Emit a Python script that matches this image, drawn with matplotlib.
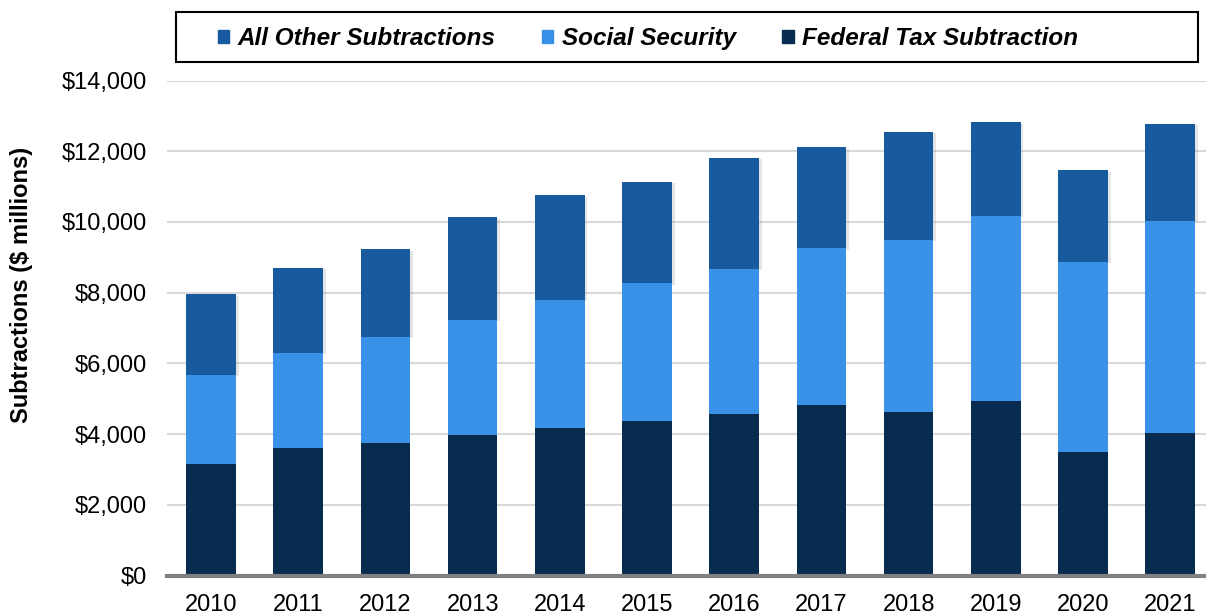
import matplotlib
matplotlib.use("Agg")
import matplotlib.pyplot as plt
from matplotlib.patches import Rectangle, Patch
import matplotlib.patheffects as pe
import numpy as np

years = ["2010", "2011", "2012", "2013", "2014", "2015", "2016", "2017", "2018", "2019", "2020", "2021"]
federal_tax = [3150, 3600, 3760, 3960, 4170, 4360, 4570, 4830, 4630, 4940, 3500, 4020]
social_security = [2530, 2700, 2990, 3270, 3630, 3900, 4110, 4420, 4870, 5240, 5380, 6010]
all_other = [2270, 2410, 2480, 2900, 2950, 2880, 3140, 2860, 3050, 2640, 2580, 2740]

labels = ["All Other Subtractions", "Social Security", "Federal Tax Subtraction"]
c_other = "#175a9d"
c_ss = "#3a91e8"
c_fed = "#082b50"

plt.rcParams['font.family'] = ['Liberation Sans', 'DejaVu Sans']

fig = plt.figure(figsize=(12.06, 6.15), dpi=100)
ax = fig.add_axes([167/1206, 1-575.5/615, 1-167/1206, (575.5-80.5)/615])

x = np.arange(len(years))
w = 0.57
fed = np.array(federal_tax)
ss = np.array(social_security)
oth = np.array(all_other)
shadow = [pe.SimplePatchShadow(offset=(2, -1), alpha=0.2, shadow_rgbFace='gray'), pe.Normal()]
b3 = ax.bar(x, oth, w, bottom=fed + ss, color=c_other, zorder=3)
b2 = ax.bar(x, ss, w, bottom=fed, color=c_ss, zorder=4)
b1 = ax.bar(x, fed, w, color=c_fed, zorder=4)
for p in b3:
    p.set_path_effects(shadow)

ax.set_ylim(0, 14000)
ax.set_xlim(-0.505, 11.41)
ax.set_yticks(np.arange(0, 14001, 2000))
ax.set_yticklabels([f"${v:,.0f}" for v in np.arange(0, 14001, 2000)], fontsize=17)
ax.set_xticks(x)
ax.set_xticklabels(years, fontsize=17)
ax.tick_params(axis='both', length=0)
ax.tick_params(axis='y', pad=14.5)
ax.tick_params(axis='x', pad=13)
ax.grid(axis='y', color='#d9d9d9', linewidth=1.5, zorder=0)
ax.set_axisbelow(True)
for s in ['top', 'right', 'left']:
    ax.spines[s].set_visible(False)
ax.spines['bottom'].set_color('#808080')
ax.spines['bottom'].set_linewidth(3)
ax.spines['bottom'].set_zorder(5)

ax.set_ylabel("Subtractions ($ millions)", fontsize=17, fontweight='bold')
ax.yaxis.set_label_coords(-0.129, 0.588)

# legend box
rect = Rectangle((176/1206, 1-62/615), (1198-176)/1206, 50/615, transform=fig.transFigure,
                 fill=False, edgecolor='black', linewidth=1.5)
fig.patches.append(rect)
handles = [Patch(color=c_other), Patch(color=c_ss), Patch(color=c_fed)]
fig.legend(handles, labels, loc='center', bbox_to_anchor=(648/1206, 1-38.5/615), ncol=3, frameon=False,
           prop={'size': 17.5, 'weight': 'bold', 'style': 'italic'},
           handlelength=0.47, handleheight=0.47, handletextpad=0.35, columnspacing=1.9)

fig.savefig("out.png", dpi=100)
